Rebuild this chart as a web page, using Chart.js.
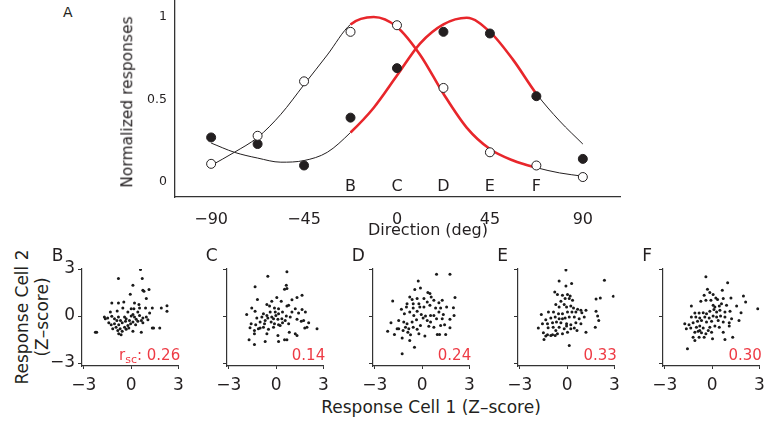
<!DOCTYPE html>
<html>
<head>
<meta charset="utf-8">
<script src="https://cdn.jsdelivr.net/npm/chart.js@4.4.1/dist/chart.umd.min.js"></script>
<style>
  body { margin: 0; width: 764px; height: 421px; background: #fff; position: relative; overflow: hidden;
         font-family: "DejaVu Sans", sans-serif; color: #231f20; }
  .txt { position: absolute; white-space: nowrap; line-height: 1; }
  .rot { transform: translate(-50%, -50%) rotate(-90deg); }
  .ctr { transform: translate(-50%, -50%); }
  .rsc { color: #ee3b45; font-size: 15px; text-align: right; }
  .rsc sub { font-size: 11px; vertical-align: -3px; }
  canvas { position: absolute; }
</style>
</head>
<body>
<canvas id="tuningChart" width="530" height="245" style="left:100px;top:0px"></canvas>
<div class="txt" style="left:63px;top:5px;font-size:14px">A</div>
<div class="txt rot" style="left:128px;top:102px;font-size:15.5px">Normalized responses</div>
<div class="txt ctr" style="left:428px;top:230px;font-size:16px">Direction (deg)</div>
<div class="txt rot" style="left:22px;top:317px;font-size:17px">Response Cell 2</div>
<div class="txt rot" style="left:42px;top:317px;font-size:17px">(Z–score)</div>
<div class="txt ctr" style="left:431px;top:407px;font-size:17px">Response Cell 1 (Z–score)</div>
<div id="panels"></div>

<script>
// Top panel: tuning of the two cells
const directions = [-90, -67.5, -45, -22.5, 0, 22.5, 45, 67.5, 90];
const cell1Resp = [0.27, 0.23, 0.10, 0.39, 0.69, 0.91, 0.90, 0.52, 0.14];   // filled dots
const cell2Resp = [0.11, 0.28, 0.61, 0.91, 0.95, 0.57, 0.18, 0.10, 0.03];   // open dots
const fitDirections = [-90, -78.75, -67.5, -56.25, -45, -33.75, -22.5, -11.25, 0,
                       11.25, 22.5, 33.75, 45, 56.25, 67.5, 78.75, 90];
const cell1Fit = [0.236, 0.18, 0.145, 0.12, 0.13, 0.18, 0.30, 0.45, 0.645,
                  0.84, 0.955, 0.995, 0.91, 0.74, 0.535, 0.37, 0.23];
const cell2Fit = [0.10, 0.18, 0.27, 0.41, 0.59, 0.77, 0.955, 1.0, 0.94,
                  0.77, 0.535, 0.33, 0.20, 0.13, 0.087, 0.055, 0.035];
const redRange = [-22.5, 67.5];
const directionTicks = [-90, -45, 0, 45, 90];
const responseTicks = [0, 0.5, 1];

// Bottom panels: z-scored responses
const panelLetters = ["B", "C", "D", "E", "F"];
const letterDirections = [-22.5, 0, 22.5, 45, 67.5];
const rscValues = ["0.26", "0.14", "0.24", "0.33", "0.30"];
const zTicks = [-3, 0, 3];

const scatterB = [[0.59,2.97],[-0.81,2.39],[0.70,2.39],[0.11,1.97],[0.74,1.65],[0.81,1.58],[1.13,1.69],[-0.06,1.39],[0.96,1.11],[-1.23,0.83],[-0.81,0.83],[-0.47,0.90],[0.21,0.83],[0.49,0.73],[-0.53,0.51],[0.00,0.47],[0.17,0.47],[0.53,0.51],[0.91,0.51],[1.34,0.51],[1.91,0.51],[2.27,0.66],[2.27,0.30],[-1.32,0.26],[-0.89,0.32],[-0.21,0.26],[0.11,0.09],[0.42,0.26],[1.17,0.19],[-1.70,-0.06],[-1.49,-0.13],[-1.23,-0.02],[-1.06,-0.17],[-0.81,-0.06],[-0.68,-0.28],[-0.42,-0.06],[-0.32,-0.17],[0.00,0.00],[0.21,-0.06],[0.53,0.04],[0.74,-0.13],[0.96,-0.06],[1.06,-0.24],[-1.42,-0.43],[-1.27,-0.56],[-1.06,-0.49],[-0.96,-0.71],[-0.79,-0.56],[-0.57,-0.43],[-0.36,-0.34],[-0.21,-0.60],[-0.04,-0.49],[0.11,-0.38],[0.28,-0.56],[0.42,-0.34],[0.64,-0.28],[0.74,-0.43],[1.34,-0.77],[1.42,-0.77],[1.81,-0.77],[-2.27,-1.03],[-2.19,-1.03],[-1.17,-0.81],[-0.85,-0.92],[-0.79,-1.13],[-0.64,-1.20],[-0.57,-0.98],[-0.32,-0.85],[-0.15,-0.77],[0.11,-0.98],[0.64,-1.03],[-0.42,-0.71],[-1.64,-0.17],[-0.91,-0.28],[-0.11,-0.28],[0.32,-0.21],[-0.70,-0.81]];
const scatterC = [[0.68,2.82],[-0.53,2.54],[-1.34,1.86],[0.64,1.97],[0.53,1.71],[0.68,1.75],[-1.19,1.05],[0.04,1.18],[-0.28,0.94],[-0.59,0.73],[-0.42,0.64],[-1.55,0.51],[-0.11,0.51],[0.15,0.47],[0.32,0.94],[0.79,0.68],[1.00,1.03],[1.32,1.18],[1.64,1.32],[0.68,0.64],[1.21,0.47],[1.64,0.41],[-1.34,0.30],[-0.81,0.15],[-0.59,0.04],[-0.38,0.26],[-0.06,0.26],[0.15,0.15],[0.40,0.26],[0.64,0.00],[1.00,0.26],[1.42,0.19],[1.85,0.26],[-1.87,0.09],[-1.23,-0.13],[-0.91,-0.06],[-0.53,-0.13],[-0.17,-0.17],[0.11,-0.21],[0.36,-0.17],[0.57,-0.28],[0.89,-0.06],[1.32,-0.21],[1.74,-0.28],[-1.59,-0.49],[-1.30,-0.56],[-1.02,-0.38],[-0.74,-0.49],[-0.32,-0.38],[-0.11,-0.49],[0.15,-0.56],[0.40,-0.43],[0.79,-0.49],[1.59,-0.34],[2.06,-0.43],[-1.66,-0.75],[-1.38,-0.92],[-1.02,-0.77],[-0.81,-0.71],[-0.49,-0.85],[-0.17,-0.71],[0.25,-0.60],[-1.38,-1.13],[-0.59,-1.13],[0.11,-1.24],[0.83,-1.03],[1.21,-1.13],[1.32,-1.24],[1.81,-0.77],[1.95,-0.71],[2.59,-0.81],[-1.72,-1.52],[-1.38,-1.82],[-0.70,-1.62],[0.15,-1.62],[0.53,-1.52],[0.68,-1.52],[-0.28,-0.06],[-0.02,0.04],[-0.70,-0.28],[-1.13,-0.81]];
const scatterD = [[0.91,2.67],[1.76,2.67],[-0.25,2.24],[-0.11,1.79],[-0.47,1.69],[0.36,1.50],[0.49,1.43],[0.57,1.22],[-0.79,1.22],[-0.64,1.05],[-0.32,1.11],[0.11,1.11],[0.74,1.00],[-1.87,0.96],[2.08,1.18],[-0.96,0.79],[-0.57,0.79],[-0.21,0.79],[0.32,0.90],[1.06,0.85],[1.27,1.00],[-1.32,0.43],[-1.00,0.58],[-0.57,0.51],[-0.15,0.58],[0.11,0.58],[0.49,0.68],[0.85,0.51],[1.17,0.51],[1.55,0.58],[1.98,0.53],[-1.13,0.15],[-0.79,0.26],[-0.32,0.30],[-0.06,0.09],[0.21,0.00],[0.53,0.04],[0.74,0.04],[1.06,0.26],[1.34,0.09],[2.02,0.04],[-1.98,-0.43],[-1.49,-0.28],[-1.17,-0.38],[-0.96,-0.49],[-0.64,-0.38],[-0.36,-0.24],[0.06,-0.13],[0.32,-0.28],[0.91,-0.17],[1.27,-0.17],[1.76,-0.21],[-1.06,-0.71],[-0.85,-0.81],[-0.57,-0.71],[-0.32,-0.85],[-0.11,-0.60],[0.42,-0.66],[0.74,-0.71],[1.17,-0.60],[1.42,-0.56],[1.76,-0.75],[-2.19,-0.98],[-1.76,-1.18],[-1.49,-0.81],[-1.21,-0.92],[-0.91,-1.03],[-0.74,-1.20],[0.17,-1.28],[0.96,-1.18],[1.10,-1.18],[1.49,-1.18],[-1.27,-1.41],[-0.79,-1.56],[-0.49,-1.99],[-1.27,-2.41],[0.53,-0.38],[-0.53,0.04],[-0.21,-1.13],[-1.59,-0.81]];
const scatterE = [[-0.08,2.93],[-0.51,2.24],[0.28,2.07],[2.36,2.29],[-0.08,1.92],[-0.79,1.54],[-0.62,1.37],[-0.30,1.32],[0.02,1.37],[0.19,1.28],[-0.13,1.11],[-0.40,0.94],[0.13,1.11],[0.34,1.00],[2.93,1.26],[2.10,1.15],[1.83,1.09],[-0.72,0.73],[-0.51,0.58],[-0.19,0.73],[-0.04,0.58],[0.23,0.64],[0.40,0.51],[0.66,0.43],[0.87,0.36],[1.19,0.36],[-1.19,0.26],[-1.64,0.09],[-0.87,0.26],[-0.55,0.15],[-0.30,0.15],[0.02,0.26],[0.30,0.26],[0.55,0.26],[0.93,0.21],[1.83,0.30],[1.93,0.00],[-1.36,-0.24],[-1.04,-0.13],[-0.76,-0.06],[-0.51,-0.17],[-0.30,-0.17],[-0.13,-0.13],[0.13,-0.06],[0.45,-0.06],[0.76,-0.17],[1.08,-0.06],[2.00,-0.28],[-1.57,-0.49],[-1.25,-0.49],[-0.93,-0.43],[-0.68,-0.38],[-0.40,-0.43],[-0.04,-0.49],[0.23,-0.56],[0.55,-0.43],[0.87,-0.49],[-1.83,-0.77],[-1.21,-0.75],[-0.89,-0.71],[-0.51,-0.71],[-0.04,-0.64],[0.23,-0.81],[0.45,-0.77],[1.78,-0.71],[-1.51,-1.07],[-1.25,-1.20],[-0.93,-1.20],[-0.76,-1.24],[-0.62,-1.13],[-0.30,-1.13],[0.02,-1.03],[0.62,-0.92],[1.19,-1.03],[-1.47,-1.50],[-1.04,-1.24],[0.13,-1.88],[-0.72,-0.92],[-0.19,-0.81],[-1.36,-1.28]];
const scatterF = [[-0.40,2.50],[0.98,2.12],[-0.30,1.71],[-0.15,1.50],[0.64,1.65],[0.06,1.37],[-0.51,1.32],[0.23,1.15],[-0.72,0.94],[-0.40,1.00],[-0.08,1.00],[0.34,1.05],[0.70,1.11],[1.19,1.15],[1.98,1.28],[2.12,0.90],[-1.32,0.64],[0.06,0.68],[0.17,0.58],[0.45,0.64],[0.59,0.79],[0.91,0.68],[1.55,0.64],[2.89,0.47],[-1.10,0.19],[-0.83,0.19],[-0.57,0.21],[-0.36,0.15],[-0.15,0.30],[0.11,0.41],[0.28,0.26],[0.49,0.36],[0.81,0.26],[1.13,0.30],[1.83,0.21],[-1.32,-0.06],[-1.04,-0.06],[-0.79,-0.13],[-0.47,-0.06],[-0.19,-0.13],[0.06,0.00],[0.28,-0.06],[0.53,0.00],[0.81,-0.06],[1.23,-0.17],[1.70,-0.28],[-1.74,-0.49],[-1.47,-0.56],[-1.21,-0.43],[-0.93,-0.34],[-0.68,-0.28],[-0.36,-0.38],[-0.04,-0.34],[0.38,-0.28],[0.70,-0.38],[1.08,-0.43],[-1.64,-0.81],[-1.36,-0.77],[-1.00,-0.71],[-0.79,-0.64],[-0.57,-0.77],[-0.15,-0.71],[0.17,-0.64],[0.45,-0.71],[1.08,-0.64],[-1.10,-1.03],[-0.89,-0.98],[-0.68,-1.07],[-0.40,-1.13],[-0.04,-1.03],[0.70,-1.03],[-1.21,-1.35],[-0.83,-1.35],[-0.51,-1.35],[0.02,-1.45],[0.81,-1.50],[1.30,-1.35],[-1.10,-1.56],[-1.57,-2.09],[-0.79,-0.92],[-0.25,-0.92]];
const scatterSets = [scatterB, scatterC, scatterD, scatterE, scatterF];

const FONT = '"DejaVu Sans", sans-serif';
const INK = "#231f20";
const RED = "#e8262b";

function minusLabel(v) {
  return v < 0 ? "\u2212" + Math.abs(v) : String(v);
}

function inRed(ctx) {
  return ctx.p0.parsed.x >= redRange[0] && ctx.p1.parsed.x <= redRange[1];
}

function fitLine(values) {
  return {
    type: "line",
    data: fitDirections.map((d, i) => ({ x: d, y: values[i] })),
    borderColor: INK,
    borderWidth: 1,
    pointRadius: 0,
    fill: false,
    cubicInterpolationMode: "monotone",
    segment: {
      borderColor: (ctx) => (inRed(ctx) ? RED : INK),
      borderWidth: (ctx) => (inRed(ctx) ? 2.6 : 1),
    },
    order: 2,
  };
}

// letters B-F under the tuning curves
const letterPlugin = {
  id: "dirLetters",
  afterDatasetsDraw(chart) {
    const { ctx, scales } = chart;
    ctx.save();
    ctx.font = "16px " + FONT;
    ctx.fillStyle = INK;
    ctx.textAlign = "center";
    ctx.textBaseline = "middle";
    letterDirections.forEach((d, i) => {
      ctx.fillText(panelLetters[i], scales.x.getPixelForValue(d), scales.y.getPixelForValue(-0.03));
    });
    ctx.restore();
  },
};

new Chart(document.getElementById("tuningChart"), {
  type: "scatter",
  data: {
    datasets: [
      {
        data: directions.map((d, i) => ({ x: d, y: cell2Resp[i] })),
        pointRadius: 4.5,
        pointBackgroundColor: "#ffffff",
        pointBorderColor: INK,
        pointBorderWidth: 1,
        order: 0,
      },
      {
        data: directions.map((d, i) => ({ x: d, y: cell1Resp[i] })),
        pointRadius: 4.5,
        pointBackgroundColor: INK,
        pointBorderColor: INK,
        pointBorderWidth: 1,
        order: 0,
      },
      fitLine(cell2Fit),
      fitLine(cell1Fit),
    ],
  },
  options: {
    responsive: false,
    animation: false,
    events: [],
    layout: { autoPadding: false, padding: { left: 0, right: 10, top: 0, bottom: 0 } },
    plugins: { legend: { display: false }, tooltip: { enabled: false } },
    scales: {
      x: {
        type: "linear",
        min: -107.5,
        max: 108,
        afterBuildTicks: (s) => { s.ticks = directionTicks.map((v) => ({ value: v })); },
        afterFit: (s) => { s.height = 48; s.paddingLeft = 0; s.paddingRight = 0; },
        grid: { display: false, drawTicks: false },
        border: { display: true, color: "#333", width: 1.3 },
        ticks: { color: INK, padding: 13, maxRotation: 0, font: { family: FONT, size: 16 }, callback: minusLabel },
      },
      y: {
        min: -0.091,
        max: 1.103,
        afterBuildTicks: (s) => { s.ticks = responseTicks.map((v) => ({ value: v })); },
        afterFit: (s) => { s.width = 75; s.paddingTop = 0; s.paddingBottom = 0; },
        grid: { display: false, drawTicks: false },
        border: { display: true, color: "#333", width: 1.3 },
        ticks: { color: INK, padding: 8, font: { family: FONT, size: 12.5 }, callback: (v) => String(v) },
      },
    },
  },
  plugins: [letterPlugin],
});

// scatter panels
const panelAxisX = [81.7, 226.7, 372.7, 518.3, 663.3];
const holder = document.getElementById("panels");

scatterSets.forEach((pts, i) => {
  const ax = panelAxisX[i];
  const canvas = document.createElement("canvas");
  canvas.width = 138;
  canvas.height = 140;
  canvas.style.left = ax - 32 + "px";
  canvas.style.top = "258px";
  holder.appendChild(canvas);

  const letter = document.createElement("div");
  letter.className = "txt";
  letter.style.cssText = `left:${ax - (i === 0 ? 30 : 21)}px;top:247px;font-size:17px`;
  letter.textContent = panelLetters[i];
  holder.appendChild(letter);

  const r = document.createElement("div");
  r.className = "txt rsc";
  r.style.cssText = `right:${764 - (ax + 98.5)}px;top:348px`;
  r.innerHTML = (i === 0 ? "r<sub>sc</sub>: " : "") + rscValues[i];
  holder.appendChild(r);

  new Chart(canvas, {
    type: "scatter",
    data: {
      datasets: [{
        data: pts.map((p) => ({ x: p[0], y: p[1] })),
        pointRadius: 1.5,
        pointBorderWidth: 0,
        pointBackgroundColor: "#1a1a1a",
      }],
    },
    options: {
      responsive: false,
      animation: false,
      events: [],
      layout: { autoPadding: false, padding: { left: 0, right: 9.5, top: 11, bottom: 0 } },
      plugins: { legend: { display: false }, tooltip: { enabled: false } },
      scales: {
        x: {
          type: "linear",
          min: -3.12,
          max: 3,
          afterBuildTicks: (s) => { s.ticks = zTicks.map((v) => ({ value: v })); },
          afterFit: (s) => { s.height = 32; s.paddingLeft = 0; s.paddingRight = 0; },
          grid: { display: true, drawOnChartArea: false, drawTicks: true, tickLength: 3, color: "#333" },
          border: { display: true, color: "#333", width: 1.2 },
          ticks: { color: INK, padding: 6, maxRotation: 0, font: { family: FONT, size: 17 }, callback: minusLabel },
        },
        y: {
          min: -3.19,
          max: 3,
          afterBuildTicks: (s) => { s.ticks = zTicks.map((v) => ({ value: v })); },
          afterFit: (s) => { s.width = 32; s.paddingTop = 0; s.paddingBottom = 0; },
          grid: { display: true, drawOnChartArea: false, drawTicks: true, tickLength: 4, color: "#333" },
          border: { display: true, color: "#333", width: 1.2 },
          ticks: { display: i === 0, color: INK, padding: 3, font: { family: FONT, size: 17 }, callback: minusLabel },
        },
      },
    },
  });
});
</script>
</body>
</html>
